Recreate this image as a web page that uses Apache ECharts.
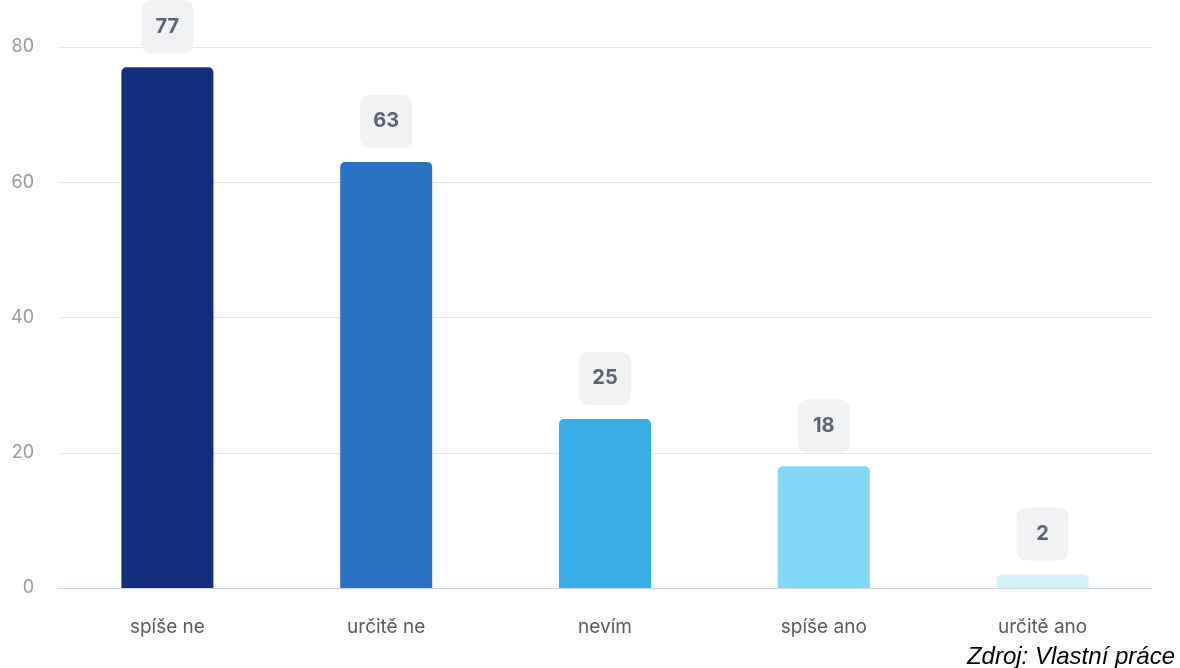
<!DOCTYPE html>
<html><head><meta charset="utf-8">
<script src="https://cdn.jsdelivr.net/npm/echarts@6/dist/echarts.min.js"></script>
<style>html,body{margin:0;padding:0;background:#fff}#c{width:1180px;height:668px}</style>
</head><body><div id="c"></div>
<script>
const categories = ['spíše ne', 'určitě ne', 'nevím', 'spíše ano', 'určitě ano'];
const values = [77, 63, 25, 18, 2];
const barColors = ['#122f80', '#2b72c4', '#3aade6', '#82d7f2', '#d3f1fb'];
const yTicks = { min: 0, max: 80, interval: 20 };
const sourceText = 'Zdroj: Vlastní práce';

const chart = echarts.init(document.getElementById('c'), null, { renderer: 'canvas' });
chart.setOption({
  animation: false,
  grid: { left: 58, right: 28, top: 47, bottom: 80 },
  xAxis: {
    type: 'category', data: categories,
    axisLine: { lineStyle: { color: '#ccd6eb' } },
    axisTick: { show: false },
    axisLabel: { color: '#555b63', fontSize: 19, fontFamily: 'Inter', margin: 30 }
  },
  yAxis: {
    type: 'value', min: yTicks.min, max: yTicks.max, interval: yTicks.interval,
    axisLine: { show: false }, axisTick: { show: false },
    splitLine: { lineStyle: { color: '#e6e6e6' } },
    axisLabel: { color: '#999999', fontSize: 18, fontFamily: 'Inter', margin: 24 }
  },
  series: [{
    type: 'bar', barWidth: 92,
    data: values.map((v, i) => ({ value: v, itemStyle: { color: barColors[i] } })),
    itemStyle: { borderRadius: [5, 5, 0, 0] },
    label: {
      show: true, position: 'top', distance: 14,
      formatter: '{b|{c}}',
      rich: {
        b: {
          width: 52, height: 53, lineHeight: 53, align: 'center',
          backgroundColor: '#eff1f2', borderRadius: 9,
          color: '#5b6475', fontSize: 20, fontWeight: 'bold', fontFamily: 'Inter'
        }
      }
    }
  }],
  graphic: [{
    type: 'text', right: 5, top: 645,
    style: { text: sourceText, font: 'italic 24px "Liberation Sans", sans-serif', fill: '#000' }
  }]
});
</script></body></html>
